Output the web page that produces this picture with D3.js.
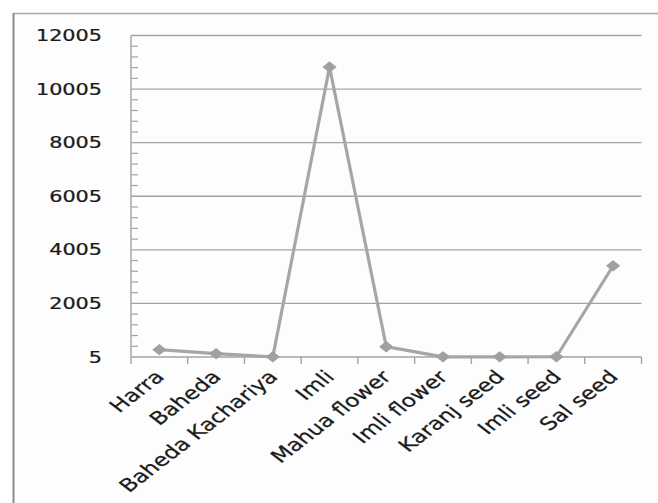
<!DOCTYPE html>
<html>
<head>
<meta charset="utf-8">
<script src="https://cdn.jsdelivr.net/npm/d3@7"></script>
<style>
  html, body { margin: 0; padding: 0; background: #ffffff; }
  svg { display: block; }
  text { font-family: "DejaVu Sans", Verdana, sans-serif; fill: #1a1a1a; stroke: #1a1a1a; stroke-width: 0.25px; }
</style>
</head>
<body>
<svg id="chart" width="658" height="503"></svg>
<script>
// Produce quantities by item
const categories = ["Harra", "Baheda", "Baheda Kachariya", "Imli", "Mahua flower",
                    "Imli flower", "Karanj seed", "Imli seed", "Sal seed"];
const values = [280, 130, 10, 10830, 390, 10, 10, 15, 3410];
const yTickValues = [5, 2005, 4005, 6005, 8005, 10005, 12005];
const yMinorStep = 400;

const svg = d3.select("#chart");
const W = 658, H = 503;
const plot = { left: 131, right: 641.5, top: 35.5, bottom: 357 };
const yTextStretch = 1.34;
const xTextStretch = 1.3;

// chart frame
svg.append("rect").attr("x", 13).attr("y", 13).attr("width", W).attr("height", H)
  .attr("fill", "#fdfdfd");
svg.append("line").attr("x1", 13).attr("x2", W).attr("y1", 13.5).attr("y2", 13.5)
  .attr("stroke", "#a9a9a9").attr("stroke-width", 1.5);
svg.append("line").attr("x1", 13.5).attr("x2", 13.5).attr("y1", 13).attr("y2", H)
  .attr("stroke", "#8a8a8a").attr("stroke-width", 2);

const x = d3.scaleBand().domain(categories).range([plot.left, plot.right]).padding(0);
const y = d3.scaleLinear().domain([5, 12005]).range([plot.bottom, plot.top]);

// horizontal gridlines
svg.append("g").selectAll("line").data(yTickValues.slice(1)).join("line")
  .attr("x1", plot.left).attr("x2", plot.right)
  .attr("y1", d => y(d)).attr("y2", d => y(d))
  .attr("stroke", "#a3a3a3").attr("stroke-width", 1.4);

// value axis line and inner minor ticks
svg.append("line").attr("x1", plot.left).attr("x2", plot.left)
  .attr("y1", plot.top).attr("y2", plot.bottom)
  .attr("stroke", "#a3a3a3").attr("stroke-width", 1.4);
const minor = d3.range(5 + yMinorStep, 12005, yMinorStep).filter(v => (v - 5) % 2000 !== 0);
svg.append("g").selectAll("line").data(minor).join("line")
  .attr("x1", plot.left).attr("x2", plot.left + 7)
  .attr("y1", d => y(d)).attr("y2", d => y(d))
  .attr("stroke", "#a3a3a3").attr("stroke-width", 1.2);

// value axis labels
svg.append("g").selectAll("text").data(yTickValues).join("text")
  .attr("transform", d => `translate(102,${y(d)}) scale(${yTextStretch},1)`)
  .attr("text-anchor", "end").attr("dy", "0.36em")
  .attr("font-size", 15.5)
  .text(d => d);

// category axis line and boundary ticks
svg.append("line").attr("x1", plot.left).attr("x2", plot.right)
  .attr("y1", plot.bottom).attr("y2", plot.bottom)
  .attr("stroke", "#a3a3a3").attr("stroke-width", 1.4);
const bounds = categories.map(c => x(c)).concat([x.range()[1]]);
svg.append("g").selectAll("line").data(bounds).join("line")
  .attr("x1", d => d).attr("x2", d => d)
  .attr("y1", plot.bottom).attr("y2", plot.bottom + 7)
  .attr("stroke", "#a3a3a3").attr("stroke-width", 1.4);

// category labels, rotated
const cx = c => x(c) + x.bandwidth() / 2;
svg.append("g").selectAll("text").data(categories).join("text")
  .attr("transform", c => `translate(${cx(c) + 6},${plot.bottom + 21}) scale(${xTextStretch},1) rotate(-45)`)
  .attr("text-anchor", "end")
  .attr("font-size", 18)
  .text(c => c);

// series line
const pts = categories.map((c, i) => [cx(c), y(values[i])]);
svg.append("path")
  .attr("d", d3.line()(pts))
  .attr("fill", "none").attr("stroke", "#a6a6a6").attr("stroke-width", 3.2)
  .attr("stroke-linejoin", "round");

// diamond markers
svg.append("g").selectAll("path").data(pts).join("path")
  .attr("transform", d => `translate(${d[0]},${d[1]}) scale(1.25,1)`)
  .attr("d", "M0,-5L5,0L0,5L-5,0Z")
  .attr("fill", "#a0a0a0").attr("stroke", "#a0a0a0").attr("stroke-width", 1);
</script>
</body>
</html>
